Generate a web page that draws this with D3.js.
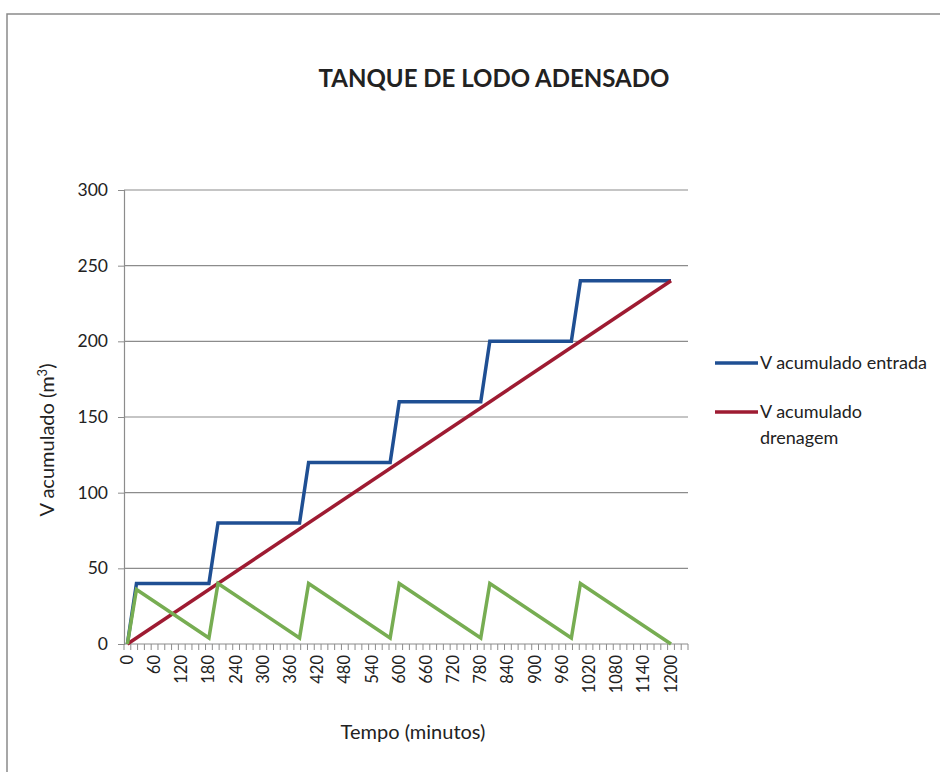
<!DOCTYPE html>
<html>
<head>
<meta charset="utf-8">
<script src="https://cdn.jsdelivr.net/npm/d3@7"></script>
<style>
  body { margin: 0; background: #fff; }
  svg text { font-family: Lato, "Open Sans", sans-serif; fill: #222; }
</style>
</head>
<body>
<div id="chart"></div>
<script>
// tempo (minutos) e volumes (m3)
var entradaT = [0, 20, 180, 200, 380, 400, 580, 600, 780, 800, 980, 1000, 1200];
var entradaV = [0, 40, 40, 80, 80, 120, 120, 160, 160, 200, 200, 240, 240];
var drenagemT = [0, 1200];
var drenagemV = [0, 240];
var tanqueT = [0, 20, 180, 200, 380, 400, 580, 600, 780, 800, 980, 1000, 1200];
var tanqueV = [0, 36, 4, 40, 4, 40, 4, 40, 4, 40, 4, 40, 0];
var yTicks = [0, 50, 100, 150, 200, 250, 300];
var xLabels = d3.range(0, 1201, 60);
var xMinor = d3.range(-7.5, 1238, 15);
var legendNames = ["V acumulado entrada", "V acumulado drenagem"];

function drawChart() {
   var width = 940, height = 772;
   var plotLeft = 124, plotRight = 688, plotTop = 190, plotBottom = 644;

   var svg = d3.select("#chart").append("svg")
      .attr("width", width)
      .attr("height", height);

   // moldura do grafico
   svg.append("path")
      .attr("d", "M7,772 V14 H940")
      .attr("fill", "none")
      .attr("stroke", "#8a8a8a")
      .attr("stroke-width", 1.5);

   var x = d3.scaleLinear().domain([-7.5, 1237.5]).range([plotLeft, plotRight]);
   var y = d3.scaleLinear().domain([0, 300]).range([plotBottom, plotTop]);

   // linhas de grade
   svg.append("g")
      .selectAll("line")
      .data(yTicks.filter(function(d) {return d > 0}))
      .enter().append("line")
      .attr("x1", plotLeft).attr("x2", plotRight)
      .attr("y1", function(d) {return y(d)})
      .attr("y2", function(d) {return y(d)})
      .attr("stroke", "#8c8c8c")
      .attr("stroke-width", 1.2);

   // eixo y
   var yAxis = svg.append("g")
      .attr("transform", "translate(" + plotLeft + ",0)")
      .call(d3.axisLeft(y).tickValues(yTicks).tickSize(6).tickPadding(10));
   yAxis.select(".domain").attr("stroke", "#8c8c8c").attr("stroke-width", 1.2);
   yAxis.selectAll(".tick line").attr("stroke", "#8c8c8c");
   yAxis.selectAll("text").style("font-size", "17.5px").attr("fill", "#333");

   // eixo x: marcas a cada 15 min, rotulos a cada 60 min
   var xAxis = svg.append("g")
      .attr("transform", "translate(0," + plotBottom + ")");
   xAxis.append("line")
      .attr("x1", plotLeft).attr("x2", plotRight)
      .attr("stroke", "#8c8c8c").attr("stroke-width", 1.2);
   xAxis.selectAll(".minor")
      .data(xMinor)
      .enter().append("line")
      .attr("class", "minor")
      .attr("x1", function(d) {return x(d)})
      .attr("x2", function(d) {return x(d)})
      .attr("y1", 0).attr("y2", 6)
      .attr("stroke", "#8c8c8c");
   xAxis.selectAll(".lbl")
      .data(xLabels)
      .enter().append("text")
      .attr("class", "lbl")
      .attr("transform", function(d) {return "translate(" + (x(d) + 5.5) + ",11) rotate(-90)"})
      .attr("text-anchor", "end")
      .style("font-size", "16.5px")
      .attr("fill", "#333")
      .text(function(d) {return d});

   // series
   var line = d3.line()
      .x(function(d) {return x(d[0])})
      .y(function(d) {return y(d[1])});

   var series = [
      {t: entradaT, v: entradaV, color: "#1f4f93"},
      {t: drenagemT, v: drenagemV, color: "#9e1b32"},
      {t: tanqueT, v: tanqueV, color: "#77ad52"}
   ];

   svg.append("g")
      .selectAll("path")
      .data(series)
      .enter().append("path")
      .attr("d", function(s) {return line(d3.zip(s.t, s.v))})
      .attr("fill", "none")
      .attr("stroke", function(s) {return s.color})
      .attr("stroke-width", 3.5)
      .attr("stroke-linejoin", "miter");

   // titulos
   svg.append("text")
      .attr("x", 494).attr("y", 87)
      .attr("text-anchor", "middle")
      .style("font-size", "24px")
      .style("font-weight", "bold")
      .attr("fill", "#111")
      .text("TANQUE DE LODO ADENSADO");

   svg.append("text")
      .attr("x", 413).attr("y", 739)
      .attr("text-anchor", "middle")
      .style("font-size", "20px")
      .text("Tempo (minutos)");

   var yTitle = svg.append("text")
      .attr("transform", "translate(54,440) rotate(-90)")
      .attr("text-anchor", "middle")
      .style("font-size", "20px");
   yTitle.append("tspan").text("V acumulado (m");
   yTitle.append("tspan").attr("dy", -7).style("font-size", "13px").text("3");
   yTitle.append("tspan").attr("dy", 7).text(")");

   // legenda
   var legend = svg.append("g");
   var legendY = [363, 412];
   legendNames.forEach(function(name, i) {
      legend.append("line")
         .attr("x1", 715).attr("x2", 758)
         .attr("y1", legendY[i]).attr("y2", legendY[i])
         .attr("stroke", series[i].color)
         .attr("stroke-width", 3.5);
      var words = i === 0 ? [name] : ["V acumulado", "drenagem"];
      var t = legend.append("text")
         .attr("x", 760).attr("y", legendY[i] + 6)
         .style("font-size", "18px");
      words.forEach(function(w, j) {
         t.append("tspan").attr("x", 760).attr("dy", j === 0 ? 0 : 26).text(w);
      });
   });
}

drawChart();
</script>
</body>
</html>
